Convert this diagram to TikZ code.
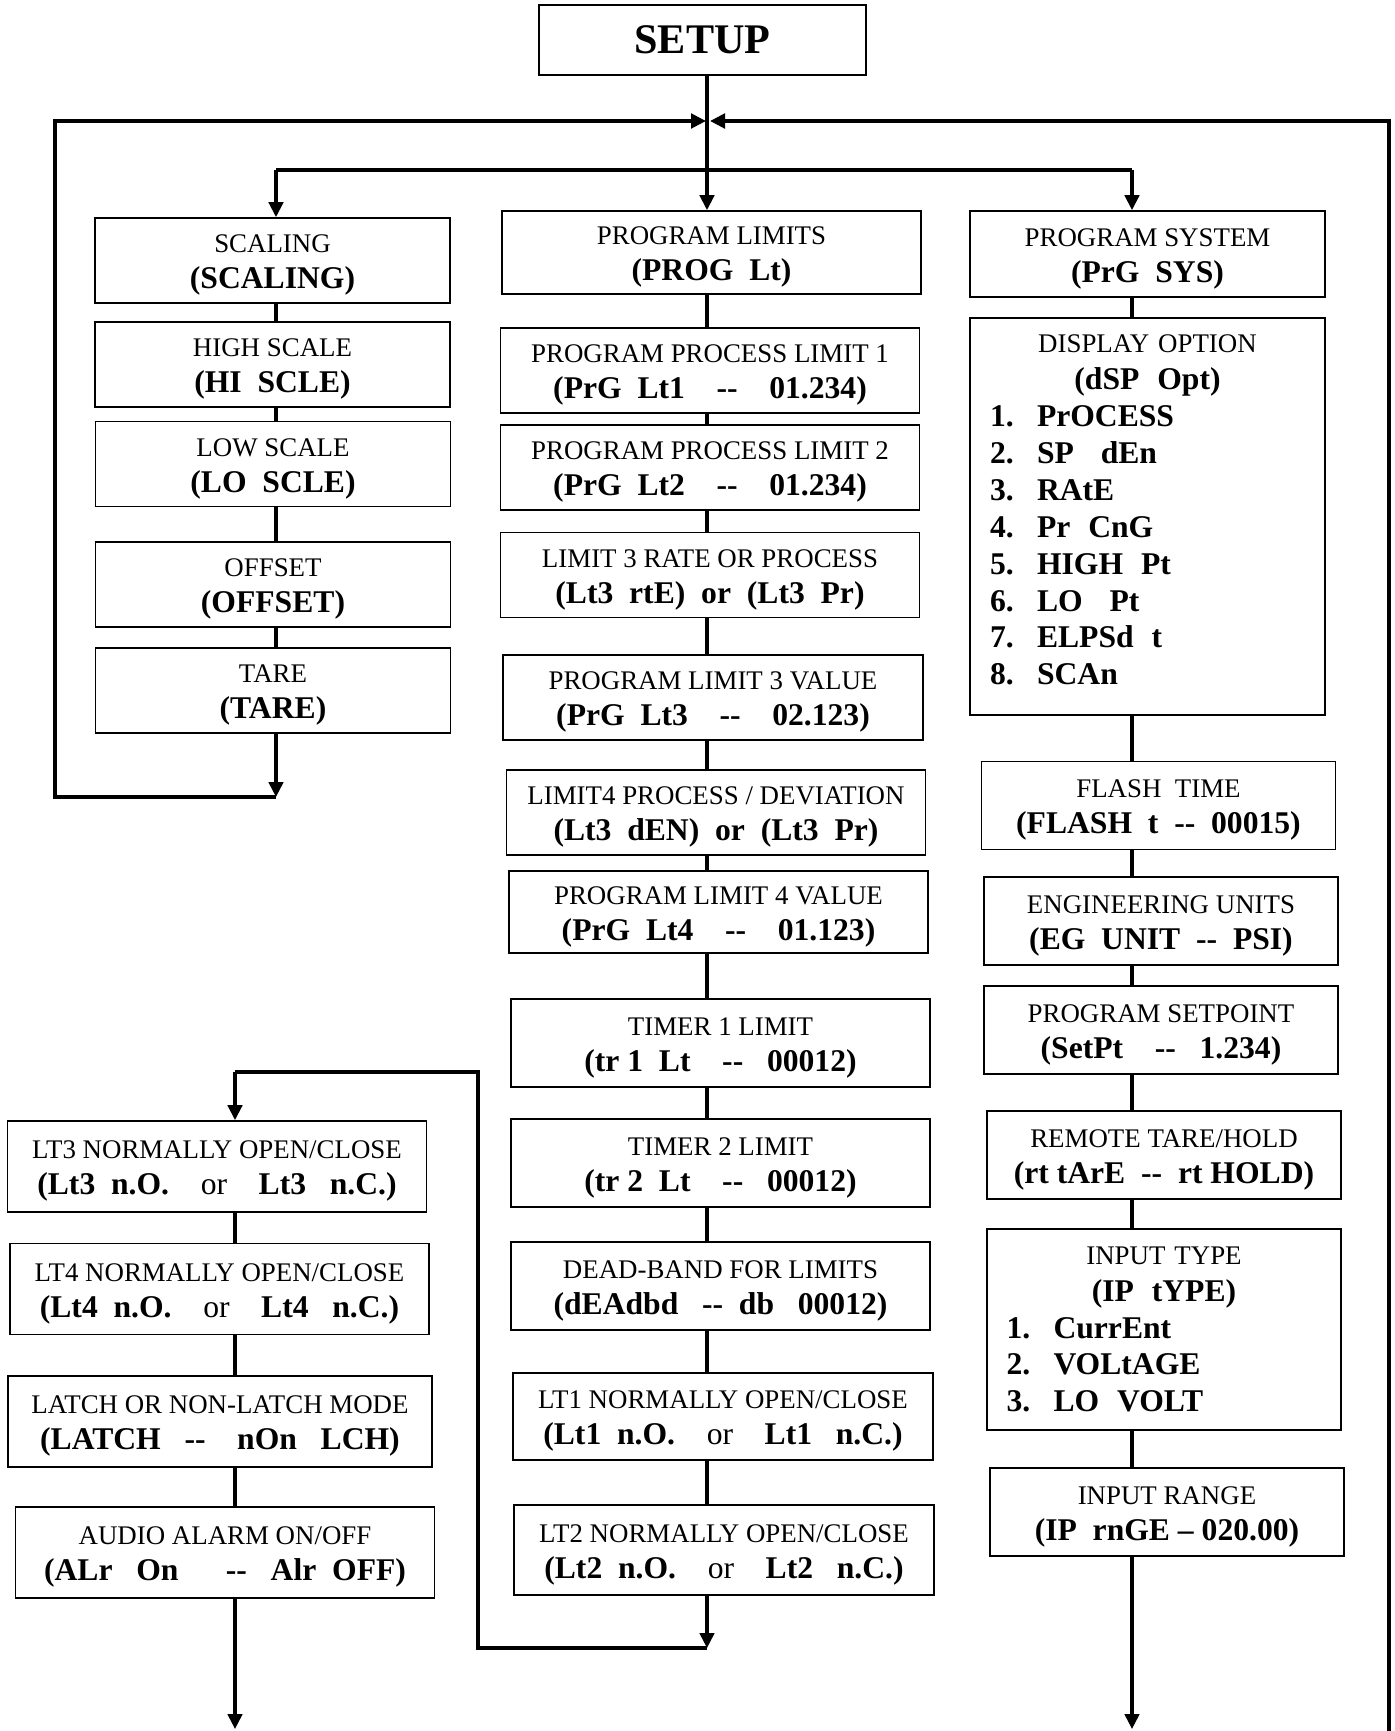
\documentclass[tikz,border=0pt]{standalone}
\usepackage{fontspec}
\setmainfont{Liberation Serif}
\usepackage{tikz}
\usetikzlibrary{arrows.meta}
\newcommand{\rmsz}{\fontsize{15.3}{20.5}\selectfont\mdseries}
\newcommand{\bfsz}{\fontsize{18}{20.5}\selectfont\bfseries}
\newcommand{\twoln}[2]{\rule{0pt}{15.7pt}#1\\{\bfsz #2}}
\newcommand{\lsitem}[2]{\makebox[0.94cm][l]{#1}#2}
\tikzset{%
    >={Triangle[width=2.9mm,length=3mm]},
    % Specifications for style of nodes:
    base/.style = {
        rectangle, draw=black, line width=1pt,
        inner sep=0pt, align=center, font=\rmsz
    },
    sbox/.style = {base, minimum width=7.1cm, minimum height=1.7cm},
    mbox/.style = {base, minimum width=8.38cm, minimum height=1.7cm},
    rbox/.style = {base, minimum width=7.08cm, minimum height=1.76cm},
    lbox/.style = {base, minimum width=8.38cm, minimum height=1.82cm},
    listbox/.style = {base, minimum width=7.08cm, text width=6.3cm, align=left,
        font=\fontsize{15.3}{21}\selectfont},
    conn/.style = {line width=1.8pt},
    ret/.style = {line width=2pt}
}

\begin{document}
\begin{tikzpicture}[x=0.02cm, y=-0.02cm]
\useasboundingbox (0,0) rectangle (1395,1731);

\node[base, minimum width=6.54cm, minimum height=1.4cm,
      font=\fontsize{24}{28}\selectfont\bfseries] (setup) at (702.5,40) {SETUP};

% scaling column
\node[sbox] (scal) at (272.5,260.5) {\twoln{SCALING}{(SCALING)}};
\node[sbox] (hisc) at (272.5,364.5) {\twoln{HIGH SCALE}{(HI~~SCLE)}};
\node[sbox] (losc) at (273,464) {\twoln{LOW SCALE}{(LO~~SCLE)}};
\node[sbox] (offs) at (273,584.5) {\twoln{OFFSET}{(OFFSET)}};
\node[sbox] (tare) at (273,690.5) {\twoln{TARE}{(TARE)}};

% limits column
\node[mbox, minimum height=1.66cm] (plim) at (711.5,252.5) {\twoln{PROGRAM LIMITS}{(PROG~~Lt)}};
\node[mbox] (ppl1) at (710,370.5) {\twoln{PROGRAM PROCESS LIMIT 1}{(PrG~~Lt1~~~~-{}-~~~~01.234)}};
\node[mbox] (ppl2) at (710,467.5) {\twoln{PROGRAM PROCESS LIMIT 2}{(PrG~~Lt2~~~~-{}-~~~~01.234)}};
\node[mbox] (lt3r) at (710,575) {\twoln{LIMIT 3 RATE OR PROCESS}{(Lt3~~rtE)~~or~~(Lt3~~Pr)}};
\node[mbox, minimum width=8.4cm] (plv3) at (713,697.5) {\twoln{PROGRAM LIMIT 3 VALUE}{(PrG~~Lt3~~~~-{}-~~~~02.123)}};
\node[mbox] (lt4d) at (716,812.5) {\twoln{LIMIT4 PROCESS / DEVIATION}{(Lt3~~dEN)~~or~~(Lt3~~Pr)}};
\node[mbox, minimum height=1.64cm] (plv4) at (718.5,912) {\twoln{PROGRAM LIMIT 4 VALUE}{(PrG~~Lt4~~~~-{}-~~~~01.123)}};
\node[mbox, minimum height=1.76cm] (tmr1) at (720.5,1043) {\twoln{TIMER 1 LIMIT}{(tr 1~~Lt~~~~-{}-~~~00012)}};
\node[mbox, minimum height=1.76cm] (tmr2) at (720.5,1163) {\twoln{TIMER 2 LIMIT}{(tr 2~~Lt~~~~-{}-~~~00012)}};
\node[mbox, minimum height=1.76cm] (dbnd) at (720.5,1286) {\twoln{DEAD-BAND FOR LIMITS}{(dEAdbd~~~-{}-~~db~~~00012)}};
\node[mbox, minimum width=8.4cm, minimum height=1.74cm] (lt1n) at (723,1416.5) {\twoln{LT1 NORMALLY OPEN/CLOSE}{(Lt1~~n.O.~~~~{\mdseries or}~~~~Lt1~~~n.C.)}};
\node[mbox, minimum width=8.4cm, minimum height=1.8cm] (lt2n) at (724,1550) {\twoln{LT2 NORMALLY OPEN/CLOSE}{(Lt2~~n.O.~~~~{\mdseries or}~~~~Lt2~~~n.C.)}};

% system column
\node[rbox, minimum width=7.1cm, minimum height=1.72cm] (psys) at (1147.5,254) {\twoln{PROGRAM SYSTEM}{(PrG~~SYS)}};
\node[listbox, minimum width=7.1cm, minimum height=7.94cm] (dspo) at (1147.5,516.5) {%
    \makebox[\hsize]{DISPLAY OPTION}\\
    \makebox[\hsize]{\bfsz (dSP~~Opt)}\\
    {\bfsz \lsitem{1.}{PrOCESS}}\\
    {\bfsz \lsitem{2.}{SP~~~dEn}}\\
    {\bfsz \lsitem{3.}{RAtE}}\\
    {\bfsz \lsitem{4.}{Pr~~CnG}}\\
    {\bfsz \lsitem{5.}{HIGH~~Pt}}\\
    {\bfsz \lsitem{6.}{LO~~~Pt}}\\
    {\bfsz \lsitem{7.}{ELPSd~~t}}\\
    {\bfsz \lsitem{8.}{SCAn}}\\[-13.5pt]\mbox{}};
\node[rbox] (flsh) at (1158.5,805.5) {\twoln{FLASH~~TIME}{(FLASH~~t~~-{}-~~00015)}};
\node[rbox] (engu) at (1161,921) {\twoln{ENGINEERING UNITS}{(EG~~UNIT~~-{}-~~PSI)}};
\node[rbox] (setp) at (1161,1030) {\twoln{PROGRAM SETPOINT}{(SetPt~~~~-{}-~~~1.234)}};
\node[rbox] (rmth) at (1164,1155) {\twoln{REMOTE TARE/HOLD}{(rt tArE~~-{}-~~rt HOLD)}};
\node[listbox, minimum height=4.02cm] (iptp) at (1164,1329.5) {%
    \makebox[\hsize]{INPUT TYPE}\\
    \makebox[\hsize]{\bfsz (IP~~tYPE)}\\
    {\bfsz \lsitem{1.}{CurrEnt}}\\
    {\bfsz \lsitem{2.}{VOLtAGE}}\\
    {\bfsz \lsitem{3.}{LO~~VOLT}}};
\node[rbox] (iprg) at (1167,1512) {\twoln{INPUT RANGE}{(IP~~rnGE -- 020.00)}};

% relay column
\node[lbox] (lt3n) at (217,1166.5) {\twoln{LT3 NORMALLY OPEN/CLOSE}{(Lt3~~n.O.~~~~{\mdseries or}~~~~Lt3~~~n.C.)}};
\node[lbox] (lt4n) at (219.5,1289) {\twoln{LT4 NORMALLY OPEN/CLOSE}{(Lt4~~n.O.~~~~{\mdseries or}~~~~Lt4~~~n.C.)}};
\node[lbox, minimum width=8.48cm] (ltch) at (220,1421.5) {\twoln{LATCH OR NON-LATCH MODE}{(LATCH~~~-{}-~~~~nOn~~~LCH)}};
\node[lbox] (audo) at (225,1552.5) {\twoln{AUDIO ALARM ON/OFF}{(ALr~~~On~~~~~~-{}-~~~Alr~~OFF)}};

% points of the connectors
\coordinate (colA) at (276,0);
\coordinate (colB) at (707,0);
\coordinate (colC) at (1132,0);
\coordinate (colD) at (235,0);
\coordinate (jnL) at (706,121);
\coordinate (jnR) at (710,121);
\coordinate (brA) at (276,170);
\coordinate (brC) at (1132,170);
\coordinate (lpA) at (276,797);
\coordinate (lpSW) at (55,797);
\coordinate (lpNW) at (55,121);
\coordinate (lpSE) at (1389,1731);
\coordinate (lpNE) at (1389,121);
\coordinate (mlB) at (707,1648);
\coordinate (mlL) at (478,1648);
\coordinate (mlT) at (478,1072);
\coordinate (mlD) at (235,1072);
\coordinate (endD) at (235,1729);
\coordinate (endC) at (1132,1729);

\draw[conn, ->] (setup.south -| colB) -- (plim.north -| colB);
\draw[ret] (brA) -- (brC);
\draw[conn, ->] (brA) -- (scal.north -| colA);
\draw[conn, ->] (brC) -- (psys.north -| colC);
\draw[ret, ->] (lpA) -- (lpSW) -- (lpNW) -- (jnL);
\draw[ret, ->] (lpSE) -- (lpNE) -- (jnR);

\draw[conn] (scal.south -| colA) -- (hisc.north -| colA);
\draw[conn] (hisc.south -| colA) -- (losc.north -| colA);
\draw[conn] (losc.south -| colA) -- (offs.north -| colA);
\draw[conn] (offs.south -| colA) -- (tare.north -| colA);
\draw[conn, ->] (tare.south -| colA) -- (lpA);

\foreach \a/\b in {plim/ppl1, ppl1/ppl2, ppl2/lt3r, lt3r/plv3, plv3/lt4d,
    lt4d/plv4, plv4/tmr1, tmr1/tmr2, tmr2/dbnd, dbnd/lt1n, lt1n/lt2n}
    \draw[conn] (\a.south -| colB) -- (\b.north -| colB);
\draw[conn, ->] (lt2n.south -| colB) -- (mlB);
\draw[ret] (mlB) -- (mlL) -- (mlT) -- (mlD);
\draw[conn, ->] (mlD) -- (lt3n.north -| colD);

\foreach \a/\b in {psys/dspo, dspo/flsh, flsh/engu, engu/setp, setp/rmth,
    rmth/iptp, iptp/iprg}
    \draw[conn] (\a.south -| colC) -- (\b.north -| colC);
\draw[conn, ->] (iprg.south -| colC) -- (endC);

\foreach \a/\b in {lt3n/lt4n, lt4n/ltch, ltch/audo}
    \draw[conn] (\a.south -| colD) -- (\b.north -| colD);
\draw[conn, ->] (audo.south -| colD) -- (endD);
\end{tikzpicture}
\end{document}
